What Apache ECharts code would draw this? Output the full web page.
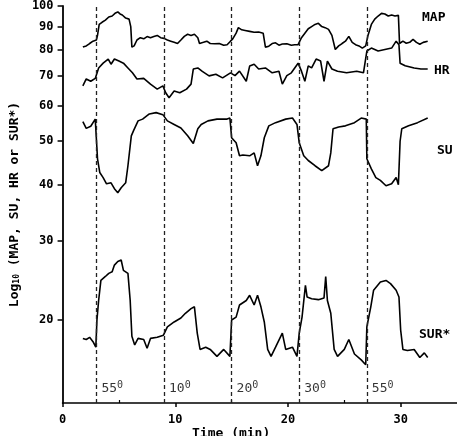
<!DOCTYPE html>
<html>
<head>
<meta charset="utf-8">
<script src="https://cdn.jsdelivr.net/npm/echarts@6/dist/echarts.min.js"></script>
<style>
  html, body { margin: 0; padding: 0; background: #fff; }
  #chart { width: 457px; height: 436px; }
</style>
</head>
<body>
<div id="chart"></div>
<script>
// time (min), value
const mapData = [[1.8,81],[2.1,81.5],[2.4,82.5],[2.7,83.5],[3.0,84],[3.1,86],[3.25,91],[3.5,92],[3.8,93],[4.1,94.5],[4.4,95],[4.7,96.5],[4.9,97],[5.1,96],[5.3,95.5],[5.6,94],[5.9,93.5],[6.05,90],[6.15,81],[6.35,81.5],[6.6,84],[6.9,85],[7.2,84.5],[7.5,85.5],[7.8,85],[8.1,85.5],[8.4,86],[8.7,85],[9.0,84.7],[9.3,84],[9.6,83.5],[9.9,83],[10.2,82.5],[10.5,84],[10.8,85.6],[11.1,86.5],[11.4,86],[11.7,86.5],[12.0,85],[12.15,82.5],[12.5,83],[12.8,83.5],[13.1,82.5],[13.5,82.4],[13.9,82.5],[14.3,81.8],[14.6,82],[14.9,83.5],[15.1,84.5],[15.4,87],[15.6,89.5],[15.9,88.5],[16.2,88.2],[16.6,87.8],[17.0,87.4],[17.4,87.5],[17.8,87],[18.0,81],[18.3,81.4],[18.6,82.5],[18.9,82.8],[19.2,81.8],[19.5,82.3],[19.9,82.4],[20.3,81.8],[20.6,82],[20.9,82],[21.2,85],[21.5,87],[21.8,89],[22.1,90],[22.4,91],[22.7,91.5],[23.0,90],[23.3,89.5],[23.6,88.7],[23.9,86],[24.2,80],[24.5,81.5],[24.8,82.5],[25.1,83.5],[25.4,85.6],[25.7,83],[26.0,82],[26.3,81.5],[26.6,80.6],[26.9,81.5],[27.1,86],[27.4,91],[27.7,93.5],[28.0,95],[28.3,96.3],[28.6,96],[28.9,95],[29.2,95.5],[29.5,95],[29.8,95.3],[29.9,82.5],[30.2,83.5],[30.5,82.6],[30.8,83],[31.1,84.3],[31.4,83],[31.7,82.2],[32.0,83],[32.4,83.5]]
const hrData = [[1.8,66.4],[2.1,68.8],[2.5,68],[2.9,69],[3.2,72.8],[3.6,74.6],[4.05,76.2],[4.3,74.2],[4.6,76.2],[5.0,75.4],[5.4,74.6],[5.8,72.8],[6.2,71],[6.6,68.8],[7.2,69],[7.8,67],[8.4,65.3],[8.9,66.4],[9.15,64.1],[9.45,62.5],[9.9,64.7],[10.4,64.1],[11.0,65.3],[11.4,67],[11.6,72.4],[12.0,72.8],[12.4,71.5],[13.0,69.9],[13.6,70.5],[14.2,69.2],[14.9,71],[15.3,70],[15.7,71.6],[16.3,68],[16.6,73.5],[17.0,74.2],[17.4,72.4],[18.0,72.8],[18.6,71],[19.2,71.6],[19.5,67],[19.9,70],[20.3,71],[20.6,72.8],[20.9,74.6],[21.2,71.6],[21.5,68],[21.8,73.6],[22.1,72.8],[22.5,76.2],[22.9,75.4],[23.2,68],[23.5,75.4],[23.9,72.4],[24.4,71.6],[25.2,71],[26.1,71.6],[26.7,71],[27.0,79.4],[27.4,80.6],[28.0,79.4],[28.6,80],[29.2,80.6],[29.6,83.5],[29.85,82],[29.95,74.6],[30.4,73.6],[31.2,72.8],[31.8,72.4],[32.4,72.4]]
const suData = [[1.8,55.3],[2.1,53.4],[2.5,54],[2.9,56],[3.0,50.6],[3.1,45.7],[3.3,42.6],[3.6,41.5],[3.9,40.2],[4.3,40.4],[4.6,39.2],[4.9,38.4],[5.2,39.4],[5.6,40.4],[5.8,44.1],[6.1,51.4],[6.3,52.8],[6.7,55.5],[7.1,56],[7.7,57.5],[8.3,57.9],[8.9,57.3],[9.3,55.5],[9.9,54.5],[10.5,53.5],[11.1,51.4],[11.6,49.4],[12.0,53.3],[12.3,54.5],[12.9,55.5],[13.7,56],[14.6,56],[14.85,56.3],[15.0,50.9],[15.4,49.6],[15.7,46.4],[16.0,46.6],[16.6,46.4],[17.0,47.1],[17.3,44.1],[17.6,46.4],[17.9,50.9],[18.3,54.1],[18.9,55],[19.8,56],[20.4,56.3],[20.8,54.5],[21.0,49.6],[21.4,46.4],[21.8,45.3],[22.4,44.1],[23.0,43],[23.6,44.1],[23.8,47.1],[24.0,53.3],[24.5,53.8],[25.1,54.1],[25.9,55],[26.5,56.3],[26.95,56],[27.0,45.7],[27.4,43.4],[27.8,41.5],[28.2,40.9],[28.7,39.8],[29.2,40.2],[29.6,41.5],[29.8,40],[29.95,50],[30.1,53.3],[30.7,54.1],[31.5,55],[32.4,56.3]]
const surData = [[1.8,18.2],[2.1,18.1],[2.4,18.3],[2.7,17.9],[2.95,17.4],[3.05,20],[3.2,22.1],[3.4,24.5],[3.8,25],[4.1,25.4],[4.4,25.6],[4.6,26.5],[4.9,27],[5.2,27.2],[5.4,25.8],[5.8,25.4],[6.0,22.1],[6.15,18.4],[6.4,17.6],[6.7,18.2],[7.2,18.1],[7.5,17.3],[7.8,18.2],[8.4,18.3],[8.95,18.5],[9.3,19.3],[9.9,19.8],[10.5,20.2],[10.9,20.7],[11.4,21.2],[11.7,21.4],[11.95,18.7],[12.2,17.2],[12.7,17.4],[13.1,17.2],[13.7,16.6],[14.3,17.2],[14.85,16.6],[15.0,20],[15.4,20.3],[15.7,21.6],[16.3,22.1],[16.6,22.7],[17.0,21.6],[17.3,22.7],[17.6,21.4],[17.9,19.8],[18.2,17.2],[18.5,16.6],[18.9,17.4],[19.5,18.7],[19.8,17.2],[20.4,17.4],[20.8,16.6],[21.0,18.7],[21.25,20.3],[21.55,23.9],[21.7,22.5],[22.1,22.3],[22.7,22.2],[23.2,22.4],[23.35,25],[23.5,22.1],[23.8,20.7],[24.1,17.2],[24.4,16.6],[25.0,17.2],[25.4,18.1],[25.9,16.8],[26.5,16.3],[26.9,15.9],[27.0,19.3],[27.35,21.4],[27.6,23.3],[28.2,24.3],[28.7,24.5],[29.1,24.1],[29.6,23.3],[29.85,22.5],[30.0,19],[30.2,17.2],[30.6,17.1],[31.2,17.2],[31.7,16.5],[32.1,16.9],[32.4,16.5]]

const traceNames = ['MAP', 'HR', 'SU', 'SUR*']
const stepTimes = [3, 9, 15, 21, 27]
const stepTemps = ['55', '10', '20', '30', '55']
const tempLabelLevel = 14.1
const yTicks = [20, 30, 40, 50, 60, 70, 80, 90, 100]
const xTicks = [0, 10, 20, 30]
const xMinorTicks = [5, 15, 25]

const FONT = '"DejaVu Sans Mono", monospace'
const chart = echarts.init(document.getElementById('chart'))

const traces = [mapData, hrData, suData, surData].map((d, i) => ({
  name: traceNames[i],
  type: 'line',
  xAxisIndex: 0,
  data: d,
  showSymbol: false,
  lineStyle: { color: '#000', width: 1.6 },
  z: 3
}))

// dashed verticals where the temperature changes
traces[0].markLine = {
  silent: true,
  symbol: 'none',
  label: { show: false },
  lineStyle: { color: '#222', type: [4, 3], width: 1.3 },
  data: stepTimes.map((t) => ({ xAxis: t }))
}

const labelText = (left, top, text) => ({
  type: 'text',
  left,
  top,
  style: { text, fill: '#000', font: 'bold 13px ' + FONT }
})

chart.setOption({
  animation: false,
  backgroundColor: '#fff',
  grid: { left: 56, right: 0, top: 6, bottom: 33 },
  xAxis: [{
    type: 'value',
    min: 0,
    max: 35,
    axisLine: { lineStyle: { color: '#000', width: 1.6 } },
    axisTick: { length: 4, customValues: xTicks, lineStyle: { color: '#000', width: 1.5 } },
    axisLabel: { customValues: xTicks, color: '#000', fontFamily: FONT, fontWeight: 'bold', fontSize: 12, margin: 11 },
    splitLine: { show: false }
  }, {
    type: 'value',
    position: 'bottom',
    min: 0,
    max: 35,
    axisLine: { show: false },
    axisTick: { inside: true, length: 3, customValues: xMinorTicks, lineStyle: { color: '#000', width: 1.2 } },
    axisLabel: { show: false },
    splitLine: { show: false }
  }],
  yAxis: {
    type: 'log',
    logBase: 10,
    min: 13.07,
    max: 100,
    axisLine: { show: true, lineStyle: { color: '#000', width: 1.8 } },
    axisTick: { show: true, length: 5, customValues: yTicks, lineStyle: { color: '#000', width: 1.5 } },
    axisLabel: { customValues: yTicks, color: '#000', fontFamily: FONT, fontWeight: 'bold', fontSize: 12, margin: 9 },
    splitLine: { show: false },
    minorTick: { show: false },
    name: 'Log{sub|10} (MAP, SU, HR or SUR*)',
    nameLocation: 'middle',
    nameGap: 40,
    nameTextStyle: {
      color: '#000',
      fontFamily: FONT,
      fontWeight: 'bold',
      fontSize: 13,
      rich: {
        sub: { fontFamily: FONT, fontWeight: 'bold', fontSize: 8, verticalAlign: 'bottom', color: '#000' }
      }
    }
  },
  series: traces.concat([{
    type: 'scatter',
    symbolSize: 0,
    silent: true,
    data: stepTimes.map((t, i) => [t, tempLabelLevel, stepTemps[i]]),
    label: {
      show: true,
      position: 'right',
      distance: 5,
      formatter: (p) => '{a|' + p.data[2] + '}{s|0}',
      rich: {
        a: { fontFamily: FONT, fontSize: 13, color: '#000', lineHeight: 16 },
        s: { fontFamily: FONT, fontSize: 10, color: '#000', verticalAlign: 'top', lineHeight: 10 }
      }
    }
  }]),
  graphic: [
    labelText(422, 11, 'MAP'),
    labelText(434, 64, 'HR'),
    labelText(437, 144, 'SU'),
    labelText(419, 328, 'SUR*'),
    labelText(192, 427, 'Time (min)')
  ]
})
</script>
</body>
</html>
